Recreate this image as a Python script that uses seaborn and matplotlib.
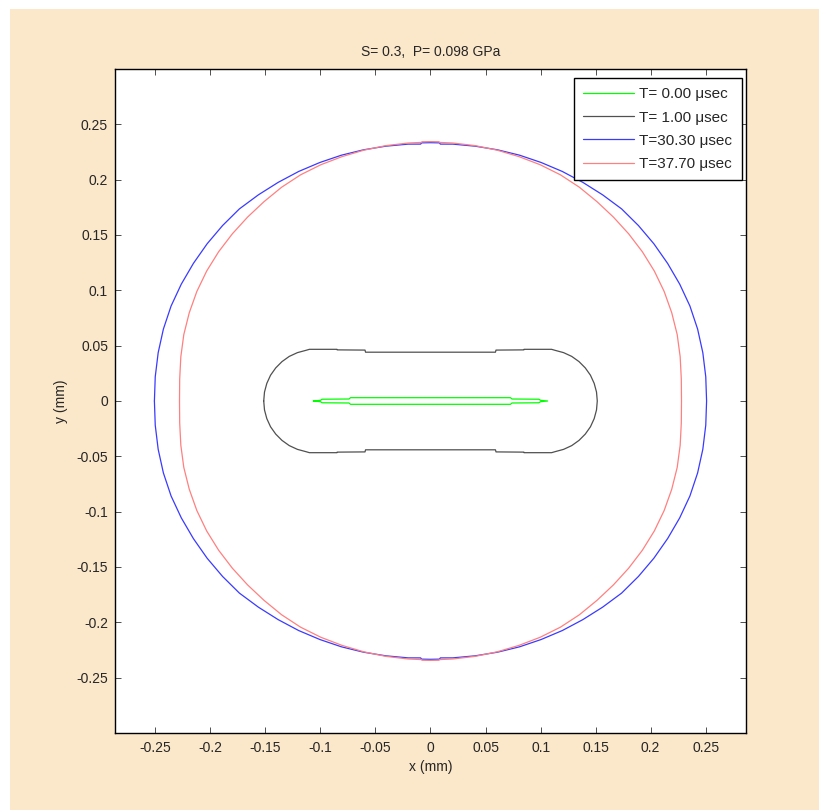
import numpy as np
import matplotlib
matplotlib.use("Agg")
import matplotlib.pyplot as plt
import seaborn as sns
from matplotlib.patches import Rectangle
from matplotlib.ticker import FuncFormatter

# first-quadrant boundary of the two inner fronts (x, y in mm)
green_x = [0.0, 0.0727, 0.0740, 0.0985, 0.1000, 0.1064]
green_y = [0.0030, 0.0030, 0.0018, 0.0016, 0.0006, 0.0]

black_x = [0.0, 0.0590, 0.0595, 0.0848, 0.0850, 0.1100, 0.1131, 0.1209, 0.1283, 0.1349,
           0.1406, 0.1453, 0.1487, 0.1508, 0.1515]
black_y = [0.0441, 0.0441, 0.0460, 0.0462, 0.0467, 0.0467, 0.0458, 0.0437, 0.0403, 0.0356,
           0.0299, 0.0233, 0.0159, 0.0081, 0.0]

# outer fronts: radius (mm) read at polar angles (deg) in the first quadrant
blue_ang = [0, 5, 10, 15, 20, 25, 30, 35, 40, 45, 50, 55, 60, 65, 70, 75, 80, 85, 87.8, 88.0, 90]
blue_r = [0.2508, 0.2510, 0.2512, 0.2512, 0.2508, 0.2498, 0.2487, 0.2477, 0.2466, 0.2455, 0.2432,
          0.2412, 0.2395, 0.2378, 0.2364, 0.2350, 0.2338, 0.2330, 0.2323, 0.2334, 0.2334]

red_ang = [0, 5, 10, 15, 20, 25, 30, 35, 40, 45, 50, 55, 60, 65, 70, 75, 80, 85, 88.0, 88.1, 90]
red_r = [0.2280, 0.2287, 0.2303, 0.2320, 0.2332, 0.2342, 0.2348, 0.2350, 0.2350, 0.2350, 0.2352,
         0.2358, 0.2360, 0.2356, 0.2350, 0.2346, 0.2343, 0.2340, 0.2338, 0.2344, 0.2344]

labels = ["T= 0.00 \u03bcsec", "T= 1.00 \u03bcsec", "T=30.30 \u03bcsec", "T=37.70 \u03bcsec"]
colors = ["#00ff00", "#505050", "#3a3aff", "#ff8080"]


def closed_curve(qx, qy):
    # mirror the quadrant about both axes to get the closed front
    qx = np.asarray(qx)
    qy = np.asarray(qy)
    xs = np.concatenate([-qx[::-1], qx, qx[::-1], -qx])
    ys = np.concatenate([qy[::-1], qy, -qy[::-1], -qy])
    return xs, ys


def polar_quadrant(ang, r):
    a = np.radians(ang[::-1])
    r = np.asarray(r[::-1])
    return r * np.cos(a), r * np.sin(a)


sns.set_style("white")
plt.rcParams["font.family"] = ["Liberation Sans", "DejaVu Sans"]

fig = plt.figure(figsize=(8.2, 8.1), dpi=100, facecolor="white")
fig.patches.append(Rectangle((10 / 820, 0), 1, 1 - 9 / 810, transform=fig.transFigure,
                             facecolor="#fbe7c9", edgecolor="none", zorder=-10))
ax = fig.add_axes([115 / 820, 1 - 733 / 810, 631 / 820, 664 / 810])
ax.set_facecolor("white")

quads = [(green_x, green_y), (black_x, black_y),
         polar_quadrant(blue_ang, blue_r), polar_quadrant(red_ang, red_r)]
for (qx, qy), lab, col in zip(quads, labels, colors):
    xs, ys = closed_curve(qx, qy)
    sns.lineplot(x=xs, y=ys, sort=False, estimator=None, color=col, lw=0.9, label=lab, ax=ax)

ax.set_xlim(-0.2866, 0.2866)
ax.set_ylim(-0.3, 0.3)
ticks = [-0.25, -0.2, -0.15, -0.1, -0.05, 0, 0.05, 0.1, 0.15, 0.2, 0.25]
ax.set_xticks(ticks)
ax.set_yticks(ticks)
fmt = FuncFormatter(lambda v, p: ("%g" % round(v, 3)).replace("\u2212", "-"))
ax.xaxis.set_major_formatter(fmt)
ax.yaxis.set_major_formatter(fmt)
ax.tick_params(direction="in", length=4, width=0.6, color="#333333", labelsize=10,
               top=True, right=True, bottom=True, left=True)
ax.tick_params(axis="x", pad=6)
ax.tick_params(axis="y", pad=5)
for s in ax.spines.values():
    s.set_color("black")
    s.set_linewidth(1.0)
    s.set_visible(True)

ax.set_title("S= 0.3,  P= 0.098 GPa", fontsize=10, pad=9)
ax.set_xlabel("x (mm)", fontsize=10, labelpad=3)
ax.set_ylabel("y (mm)", fontsize=10, labelpad=6)

leg = ax.legend(loc="upper right", bbox_to_anchor=(0.993, 0.9865), borderaxespad=0,
                fancybox=False, framealpha=1, edgecolor="black", fontsize=11,
                handlelength=3.3, labelspacing=0.6, borderpad=0.62, handletextpad=0.35)
leg.get_frame().set_linewidth(1.0)

fig.savefig("out.png", dpi=100, facecolor=fig.get_facecolor())
